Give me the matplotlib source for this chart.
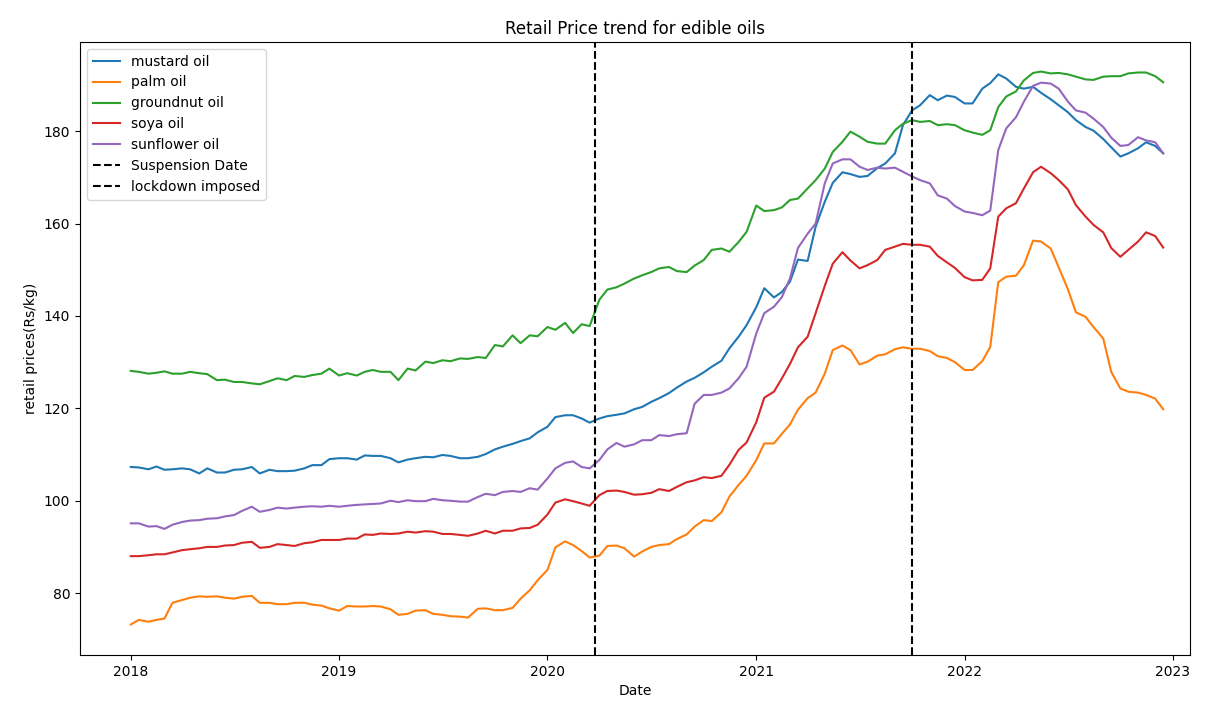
import pandas as pd
import matplotlib.pyplot as plt

# half-monthly readings (1st and 15th), Jan 2018 .. mid Dec 2022
dates = pd.date_range("2018-01-01", "2022-12-15", freq="SMS")

mustard = [107.3, 107.2, 106.8, 107.4, 106.7, 106.8, 107.0, 106.8, 105.9, 107.0, 106.1, 106.1,
           106.7, 106.8, 107.3, 105.9, 106.7, 106.4, 106.4, 106.5, 107.0, 107.7, 107.7, 109.0,
           109.2, 109.2, 108.9, 109.8, 109.7, 109.7, 109.2, 108.3, 108.9, 109.2, 109.5, 109.4,
           109.9, 109.7, 109.2, 109.2, 109.5, 110.1, 111.1, 111.7, 112.3, 112.9, 113.5, 114.8,
           116.0, 118.1, 118.5, 118.5, 117.8, 116.9, 117.8, 118.3, 118.6, 118.9, 119.8, 120.3,
           121.4, 122.2, 123.3, 124.5, 125.8, 126.6, 127.8, 129.0, 130.3, 133.0, 135.5, 138.0,
           141.9, 146.0, 144.0, 145.2, 147.4, 152.2, 151.9, 159.3, 164.7, 168.8, 171.1, 170.7,
           170.1, 170.3, 172.0, 173.0, 175.2, 181.3, 184.5, 185.6, 187.8, 186.7, 187.7, 187.4,
           186.0, 186.0, 189.2, 190.4, 192.3, 191.4, 189.6, 189.2, 189.6, 188.3, 186.9, 185.6,
           184.1, 182.4, 180.9, 180.1, 178.3, 176.5, 174.5, 175.2, 176.3, 177.6, 176.8, 175.2]
palm = [73.2, 74.2, 73.8, 74.2, 74.5, 77.9, 78.5, 79.0, 79.3, 79.2, 79.3, 79.0,
        78.8, 79.2, 79.4, 77.9, 77.9, 77.6, 77.6, 77.9, 77.9, 77.5, 77.3, 76.7,
        76.2, 77.2, 77.1, 77.1, 77.2, 77.1, 76.5, 75.3, 75.5, 76.2, 76.3, 75.5,
        75.3, 75.0, 74.9, 74.7, 76.6, 76.7, 76.3, 76.3, 76.8, 78.8, 80.6, 82.8,
        85.0, 89.9, 91.2, 90.4, 89.1, 87.7, 88.1, 90.2, 90.3, 89.7, 87.9, 89.0,
        90.0, 90.4, 90.6, 91.7, 92.7, 94.4, 95.8, 95.6, 97.5, 100.9, 103.4, 105.4,
        108.8, 112.4, 112.4, 114.5, 116.5, 119.7, 122.2, 123.4, 127.5, 132.6, 133.6, 132.6,
        129.5, 130.1, 131.4, 131.7, 132.8, 133.2, 132.9, 132.9, 132.4, 131.3, 130.9, 130.0,
        128.3, 128.3, 130.2, 133.3, 147.3, 148.5, 148.7, 151.0, 156.3, 156.1, 154.6, 150.5,
        145.8, 140.8, 139.8, 137.6, 135.1, 127.9, 124.3, 123.6, 123.4, 122.9, 122.1, 119.8]
groundnut = [128.1, 127.9, 127.5, 127.7, 128.0, 127.5, 127.5, 127.9, 127.6, 127.4, 126.1, 126.2,
             125.7, 125.7, 125.4, 125.2, 125.9, 126.5, 126.1, 127.0, 126.8, 127.2, 127.5, 128.6,
             127.1, 127.6, 127.1, 127.9, 128.3, 127.9, 127.9, 126.1, 128.6, 128.2, 130.1, 129.8,
             130.4, 130.2, 130.8, 130.7, 131.1, 130.9, 133.7, 133.4, 135.8, 134.1, 135.8, 135.6,
             137.6, 137.0, 138.5, 136.3, 138.2, 137.8, 143.5, 145.7, 146.2, 147.0, 148.1, 148.8,
             149.5, 150.3, 150.6, 149.7, 149.5, 150.9, 152.1, 154.3, 154.6, 153.9, 156.0, 158.2,
             163.9, 162.7, 162.9, 163.5, 165.1, 165.4, 167.6, 169.4, 171.9, 175.5, 177.7, 179.9,
             178.8, 177.7, 177.3, 177.3, 180.2, 181.6, 182.4, 182.0, 182.2, 181.3, 181.5, 181.3,
             180.2, 179.7, 179.2, 180.2, 185.2, 187.5, 188.6, 191.0, 192.6, 192.9, 192.5, 192.6,
             192.3, 191.8, 191.2, 191.1, 191.8, 191.9, 191.9, 192.5, 192.7, 192.7, 191.9, 190.6]
soya = [88.0, 88.0, 88.2, 88.4, 88.4, 88.8, 89.3, 89.5, 89.7, 90.0, 90.0, 90.3,
        90.4, 90.9, 91.1, 89.8, 90.0, 90.6, 90.4, 90.2, 90.8, 91.0, 91.5, 91.5,
        91.5, 91.8, 91.8, 92.7, 92.6, 92.9, 92.8, 92.9, 93.3, 93.1, 93.4, 93.3,
        92.8, 92.8, 92.6, 92.4, 92.9, 93.5, 92.9, 93.5, 93.5, 94.0, 94.1, 94.8,
        97.0, 99.6, 100.3, 99.9, 99.4, 98.9, 101.2, 102.1, 102.2, 101.9, 101.3, 101.4,
        101.7, 102.5, 102.1, 103.0, 104.0, 104.4, 105.1, 104.9, 105.4, 107.8, 111.0, 112.6,
        117.0, 122.3, 123.6, 126.5, 129.6, 133.2, 135.5, 140.6, 146.5, 151.3, 153.8, 152.0,
        150.3, 151.0, 152.1, 154.3, 155.0, 155.6, 155.4, 155.4, 155.0, 153.0, 151.6, 150.4,
        148.4, 147.7, 147.8, 150.3, 161.5, 163.3, 164.4, 167.6, 171.1, 172.3, 170.9, 169.4,
        167.4, 164.0, 161.5, 159.7, 158.1, 154.7, 152.8, 154.3, 156.1, 158.1, 157.3, 154.8]
sunflower = [95.1, 95.1, 94.4, 94.5, 93.9, 94.8, 95.4, 95.7, 95.8, 96.1, 96.2, 96.6,
             96.9, 97.8, 98.7, 97.6, 98.0, 98.5, 98.3, 98.5, 98.7, 98.8, 98.7, 98.9,
             98.7, 98.9, 99.1, 99.2, 99.3, 99.4, 100.0, 99.7, 100.1, 99.9, 99.9, 100.4,
             100.1, 100.0, 99.8, 99.8, 100.8, 101.5, 101.2, 101.9, 102.1, 101.9, 102.7, 102.4,
             104.8, 107.0, 108.2, 108.5, 107.3, 107.0, 108.8, 111.1, 112.5, 111.7, 112.2, 113.1,
             113.1, 114.2, 114.0, 114.4, 114.6, 121.0, 122.9, 122.9, 123.4, 124.3, 126.5, 129.0,
             136.2, 140.6, 142.0, 144.1, 148.1, 154.7, 157.8, 160.0, 168.7, 173.0, 173.9, 173.9,
             172.3, 171.6, 172.1, 171.9, 172.1, 171.2, 170.2, 169.4, 168.7, 166.1, 165.4, 163.8,
             162.6, 162.3, 161.8, 162.8, 175.9, 180.6, 183.0, 186.4, 189.8, 190.5, 190.3, 189.2,
             186.4, 184.5, 184.0, 182.7, 180.9, 178.6, 176.8, 177.0, 178.7, 178.0, 177.6, 175.2]

suspension_date = pd.Timestamp("2021-10-01")
lockdown_date = pd.Timestamp("2020-03-25")

fig = plt.figure(figsize=(12.06, 7.10), dpi=100)
ax = fig.add_axes([80 / 1206, 1 - 655 / 710, 1110 / 1206, 613 / 710])

ax.plot(dates, mustard, label="mustard oil")
ax.plot(dates, palm, label="palm oil")
ax.plot(dates, groundnut, label="groundnut oil")
ax.plot(dates, soya, label="soya oil")
ax.plot(dates, sunflower, label="sunflower oil")
ax.axvline(suspension_date, color="black", linestyle="--", label="Suspension Date")
ax.axvline(lockdown_date, color="black", linestyle="--", label="lockdown imposed")

ax.set_xlim(pd.Timestamp("2017-10-04"), pd.Timestamp("2023-01-31"))
ax.set_ylim(66.6, 199.3)
ax.set_title("Retail Price trend for edible oils")
ax.set_xlabel("Date")
ax.set_ylabel("retail prices(Rs/kg)")
ax.legend(loc="upper left")

plt.savefig("out.png")
